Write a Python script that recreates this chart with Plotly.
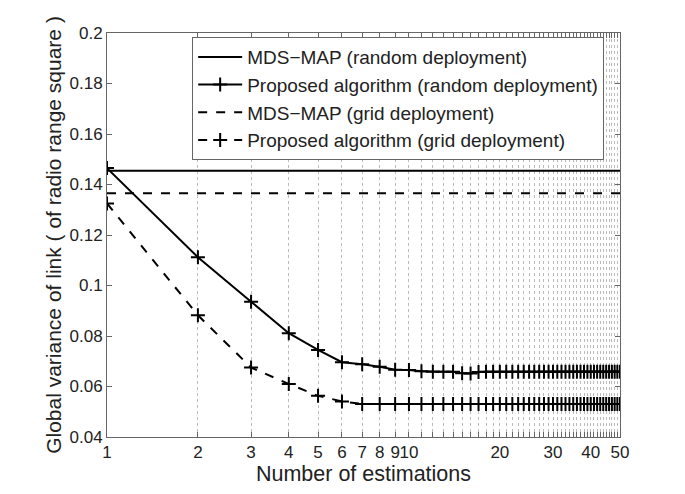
import plotly.graph_objects as go

# ---- data ----
estimations = list(range(1, 51))

mds_random_x = [1, 50]
mds_random_y = [0.1454, 0.1454]

mds_grid_x = [1, 50]
mds_grid_y = [0.1365, 0.1365]

proposed_random = [
    0.1465, 0.1112, 0.0936, 0.0811, 0.0745, 0.0696, 0.0688, 0.0678, 0.0666, 0.0665,
    0.0660, 0.0658, 0.0658, 0.0658, 0.0652, 0.0651, 0.0657, 0.0658, 0.0658, 0.0658,
    0.0658, 0.0658, 0.0658, 0.0658, 0.0658, 0.0658, 0.0658, 0.0658, 0.0658, 0.0658,
    0.0658, 0.0658, 0.0658, 0.0658, 0.0658, 0.0658, 0.0658, 0.0658, 0.0658, 0.0658,
    0.0658, 0.0658, 0.0658, 0.0658, 0.0658, 0.0658, 0.0658, 0.0658, 0.0658, 0.0658,
]

proposed_grid = [
    0.1325, 0.0882, 0.0675, 0.0610, 0.0563, 0.0541, 0.0531, 0.0531, 0.0531, 0.0531,
    0.0531, 0.0531, 0.0531, 0.0531, 0.0531, 0.0531, 0.0531, 0.0531, 0.0531, 0.0531,
    0.0531, 0.0531, 0.0531, 0.0531, 0.0531, 0.0531, 0.0531, 0.0531, 0.0531, 0.0531,
    0.0531, 0.0531, 0.0531, 0.0531, 0.0531, 0.0531, 0.0531, 0.0531, 0.0531, 0.0531,
    0.0531, 0.0531, 0.0531, 0.0531, 0.0531, 0.0531, 0.0531, 0.0531, 0.0531, 0.0531,
]

labeled_ticks = [1, 2, 3, 4, 5, 6, 7, 8, 9, 10, 20, 30, 40, 50]
y_ticks = [0.04, 0.06, 0.08, 0.1, 0.12, 0.14, 0.16, 0.18, 0.2]
y_ticktext = ["0.04", "0.06", "0.08", "0.1", "0.12", "0.14", "0.16", "0.18", "0.2"]

x_tickvals = estimations
x_ticktext = [str(v) if v in labeled_ticks else "" for v in estimations]

FONT = "Liberation Sans, Arial, Helvetica, sans-serif"
plus_marker = dict(symbol="cross-thin", size=10, color="black",
                   line=dict(width=2, color="black"))

fig = go.Figure()
fig.add_trace(go.Scatter(x=mds_random_x, y=mds_random_y, mode="lines",
                         name="MDS\u2212MAP (random deployment)",
                         line=dict(color="black", width=2)))
fig.add_trace(go.Scatter(x=estimations, y=proposed_random, mode="lines+markers",
                         name="Proposed algorithm (random deployment)",
                         line=dict(color="black", width=2), marker=plus_marker))
fig.add_trace(go.Scatter(x=mds_grid_x, y=mds_grid_y, mode="lines",
                         name="MDS\u2212MAP (grid deployment)",
                         line=dict(color="black", width=2, dash="dash")))
fig.add_trace(go.Scatter(x=estimations, y=proposed_grid, mode="lines+markers",
                         name="Proposed algorithm (grid deployment)",
                         line=dict(color="black", width=2, dash="dash"), marker=plus_marker))

fig.update_layout(
    width=677, height=486,
    margin=dict(l=99, r=65, t=25, b=57),
    paper_bgcolor="white", plot_bgcolor="white",
    font=dict(family=FONT, color="#222", size=17),
    showlegend=True,
    legend=dict(x=0.166, y=0.99, xanchor="left", yanchor="top",
                bgcolor="white", bordercolor="#666", borderwidth=1,
                font=dict(size=19, family=FONT, color="#222"),
                itemwidth=44, tracegroupgap=0),
)
fig.update_xaxes(
    type="log", range=[0, 1.69897],
    tickmode="array", tickvals=x_tickvals, ticktext=x_ticktext, tickangle=0,
    ticks="inside", ticklen=5, tickcolor="#666",
    showline=True, linecolor="#666", linewidth=1, mirror="ticks",
    showgrid=True, gridcolor="#bbb", griddash="dot", gridwidth=1,
    zeroline=False,
    title=dict(text="Number of estimations", font=dict(size=21.5), standoff=0),
    tickfont=dict(size=17),
)
fig.update_yaxes(
    range=[0.04, 0.2],
    tickmode="array", tickvals=y_ticks, ticktext=y_ticktext,
    ticks="inside", ticklen=5, tickcolor="#666",
    showline=True, linecolor="#666", linewidth=1, mirror="ticks",
    showgrid=False, zeroline=False,
    title=dict(text="Global variance of link ( of radio range square )",
               font=dict(size=21), standoff=2),
    tickfont=dict(size=17),
)

fig.write_html("out.html")
